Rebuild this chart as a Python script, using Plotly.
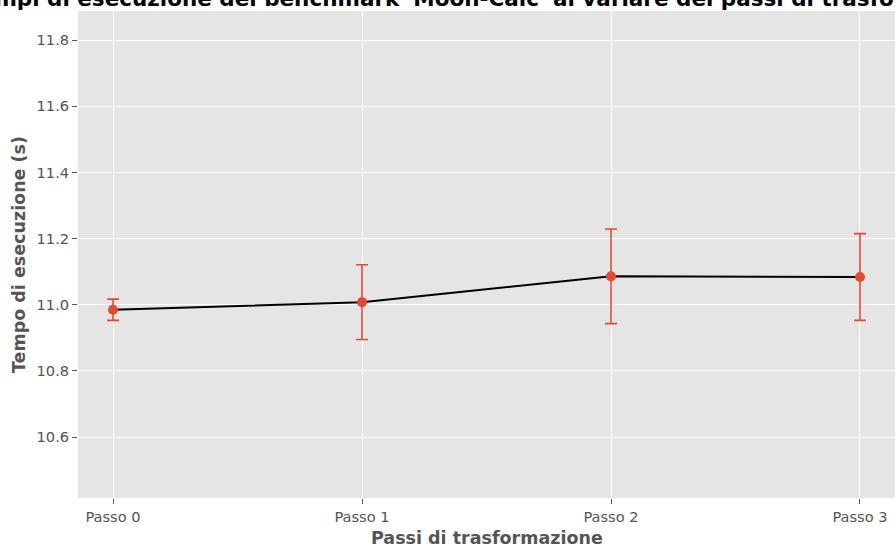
import plotly.graph_objects as go

categories = ["Passo 0", "Passo 1", "Passo 2", "Passo 3"]
means = [10.985, 11.008, 11.086, 11.084]
errors = [0.032, 0.113, 0.143, 0.131]
y_ticks = [10.6, 10.8, 11.0, 11.2, 11.4, 11.6, 11.8]

title_text = "Tempi di esecuzione del benchmark 'Moon-Calc' al variare dei passi di trasformazione"
x_title = "Passi di trasformazione"
y_title = "Tempo di esecuzione (s)"

xs = list(range(len(categories)))

fig = go.Figure()
fig.add_trace(go.Scatter(
    x=xs, y=means, mode="lines",
    line=dict(color="black", width=2),
    hoverinfo="skip", showlegend=False,
))
fig.add_trace(go.Scatter(
    x=xs, y=means, mode="markers",
    marker=dict(color="#E24A33", size=10),
    error_y=dict(type="data", array=errors, visible=True,
                 color="#E24A33", thickness=1.6, width=6),
    showlegend=False,
))

font_family = "DejaVu Sans"
fig.update_layout(
    width=895, height=545,
    margin=dict(l=78, r=0, t=11, b=47, autoexpand=False),
    paper_bgcolor="white",
    plot_bgcolor="#E5E5E5",
    font=dict(family=font_family, color="#555555", size=14.6),
    xaxis=dict(
        tickmode="array", tickvals=xs, ticktext=categories,
        range=[-0.1406, 3.1406], automargin=False,
        showgrid=True, gridcolor="white", gridwidth=1,
        zeroline=False, showline=False,
        ticks="outside", ticklen=5, tickcolor="#555555",
        tickfont=dict(size=14.6, color="#555555"),
    ),
    yaxis=dict(
        tickmode="array", tickvals=y_ticks,
        ticktext=[f"{v:.1f}" for v in y_ticks],
        range=[10.416, 11.888], automargin=False,
        showgrid=True, gridcolor="white", gridwidth=1,
        zeroline=False, showline=False,
        ticks="outside", ticklen=5, tickcolor="#555555",
        tickfont=dict(size=14.6, color="#555555"),
    ),
    annotations=[
        dict(text="<b>" + title_text + "</b>",
             x=0.5006, xref="paper", xanchor="center",
             y=1.0254, yref="paper", yanchor="middle",
             showarrow=False,
             font=dict(size=21.5, color="black", family=font_family)),
        dict(text="<b>" + x_title + "</b>",
             x=0.5012, xref="paper", xanchor="center",
             y=-0.0821, yref="paper", yanchor="middle",
             showarrow=False,
             font=dict(size=17.5, color="#555555", family=font_family)),
        dict(text="<b>" + y_title + "</b>", textangle=-90,
             x=-0.0728, xref="paper", xanchor="center",
             y=0.5, yref="paper", yanchor="middle",
             showarrow=False,
             font=dict(size=17.5, color="#555555", family=font_family)),
    ],
)

fig.write_html(
    "out.html",
    config={"displayModeBar": False},
    post_script="document.body.style.margin='0';document.body.style.overflow='hidden';",
)
